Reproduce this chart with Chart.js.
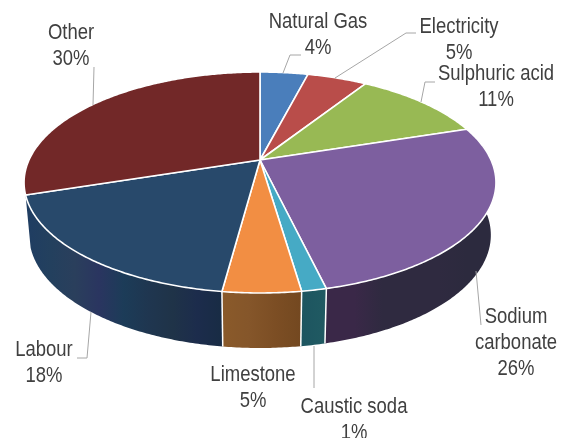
<!DOCTYPE html>
<html>
<head>
<meta charset="utf-8">
<style>
  html, body { margin: 0; padding: 0; background: #fff; overflow: hidden; }
  canvas { display: block; }
</style>
<script src="https://cdn.jsdelivr.net/npm/chart.js@4"></script>
</head>
<body>
<canvas id="chart" width="566" height="438"></canvas>
<script>
// Cost shares, as printed on the labels and as measured from the slice sizes
const categories = ['Natural Gas', 'Electricity', 'Sulphuric acid', 'Sodium carbonate', 'Caustic soda', 'Limestone', 'Labour', 'Other'];
const printedShares = [4, 5, 11, 26, 1, 5, 18, 30];
const sliceShares = [4, 5, 11, 26.3, 1.4, 4.4, 17.9, 30];

const faceColors = ['#4a7ebb', '#b94d4a', '#98b954', '#7d5f9f', '#46aac5', '#f28e43', '#28496b', '#722828'];
// bands of the side wall, left to right (back slices show no wall)
const wallColors = [
  [], [], [],
  ['#3a2848', '#3a2848', '#2f2a40', '#2f2a40', '#2f2a40', '#2c2a3e'],
  ['#1d5560', '#205a62'],
  ['#8a5a2a', '#85562a', '#7c4e24', '#734820'],
  ['#1f3d62', '#23405e', '#2a3f5c', '#2a3560', '#1c3c58', '#1f3650', '#1f3348', '#1c2c4c', '#182c44'],
  []
];

// top rim and bottom rim of the disc, seen in perspective
const tilt = 0.2036;
const topRim = { cx: 260, cy: 160, a: 231, b: 105.9 };
const bottomRim = { cx: 260, cy: 212, a: 226, b: 108.3 };

// centre of each label's first line
const labelPlaces = [[318, 22], [459, 27], [496, 74], [516, 317], [354, 407], [253, 375], [44, 350], [71, 33]];
const leaders = [
  [[283, 73], [290, 55], [301, 55]],
  [[335, 78], [406, 33], [416, 33]],
  [[421, 102], [425, 82], [435, 82]],
  [[476, 271], [481, 325]],
  [[314, 346], [314, 388]],
  [[91, 312], [87, 358], [77, 358]],
  [[93, 105], [94, 67]]
];

function project(rim, angle) {
  const u = Math.cos(angle), v = Math.sin(angle);
  const w = 1 - tilt * v;
  return [rim.cx + rim.a * u / w, rim.cy + rim.b * v / w];
}

function rimPath(ctx, rim, from, to) {
  const steps = Math.max(2, Math.ceil(Math.abs(to - from) / 0.01));
  for (let i = 0; i <= steps; i++) {
    const p = project(rim, from + (to - from) * i / steps);
    ctx.lineTo(p[0], p[1]);
  }
}

const discPlugin = {
  id: 'disc',
  beforeDatasetsDraw(chart) {
    const ctx = chart.ctx;
    const arcs = chart.getDatasetMeta(0).data;
    ctx.save();
    ctx.lineJoin = 'round';

    // side wall first
    arcs.forEach((arc, i) => {
      const bands = wallColors[i];
      if (!bands.length) return;
      const from = arc.startAngle, to = arc.endAngle;
      const xs = [project(topRim, from)[0], project(topRim, to)[0]];
      const grad = ctx.createLinearGradient(Math.min(xs[0], xs[1]), 0, Math.max(xs[0], xs[1]), 0);
      bands.forEach((c, j) => grad.addColorStop(j / (bands.length - 1), c));
      ctx.beginPath();
      rimPath(ctx, topRim, from, to);
      rimPath(ctx, bottomRim, to, from);
      ctx.closePath();
      ctx.fillStyle = grad;
      ctx.fill();
    });

    // white seams between the wall pieces
    ctx.strokeStyle = '#fff';
    ctx.lineWidth = 1.5;
    arcs.forEach(arc => {
      const a = arc.startAngle;
      if (Math.sin(a) < 0.6) return;
      const p = project(topRim, a), q = project(bottomRim, a);
      ctx.beginPath();
      ctx.moveTo(p[0], p[1]);
      ctx.lineTo(q[0], q[1]);
      ctx.stroke();
    });

    // top faces
    arcs.forEach((arc, i) => {
      ctx.beginPath();
      ctx.moveTo(topRim.cx, topRim.cy);
      rimPath(ctx, topRim, arc.startAngle, arc.endAngle);
      ctx.closePath();
      ctx.fillStyle = faceColors[i];
      ctx.fill();
      ctx.strokeStyle = '#fff';
      ctx.lineWidth = 1.6;
      ctx.stroke();
    });
    ctx.restore();
    return false;
  },
  afterDraw(chart) {
    const ctx = chart.ctx;
    ctx.save();
    ctx.strokeStyle = '#a6a6a6';
    ctx.lineWidth = 1;
    leaders.forEach(line => {
      ctx.beginPath();
      line.forEach((p, j) => j ? ctx.lineTo(p[0], p[1]) : ctx.moveTo(p[0], p[1]));
      ctx.stroke();
    });
    ctx.fillStyle = '#404040';
    ctx.font = '22px "Liberation Sans"';
    ctx.textAlign = 'center';
    ctx.textBaseline = 'middle';
    categories.forEach((name, i) => {
      const place = labelPlaces[i];
      const lines = name === 'Sodium carbonate' ? ['Sodium', 'carbonate'] : [name];
      lines.push(printedShares[i] + '%');
      lines.forEach((text, j) => {
        ctx.save();
        ctx.translate(place[0], place[1] + j * 26);
        ctx.scale(0.84, 1);
        ctx.fillText(text, 0, 0);
        ctx.restore();
      });
    });
    ctx.restore();
  }
};

new Chart(document.getElementById('chart').getContext('2d'), {
  type: 'pie',
  data: {
    labels: categories,
    datasets: [{ data: sliceShares, backgroundColor: faceColors }]
  },
  options: {
    responsive: false,
    animation: false,
    devicePixelRatio: 1,
    plugins: { legend: { display: false }, tooltip: { enabled: false } }
  },
  plugins: [discPlugin]
});
</script>
</body>
</html>
